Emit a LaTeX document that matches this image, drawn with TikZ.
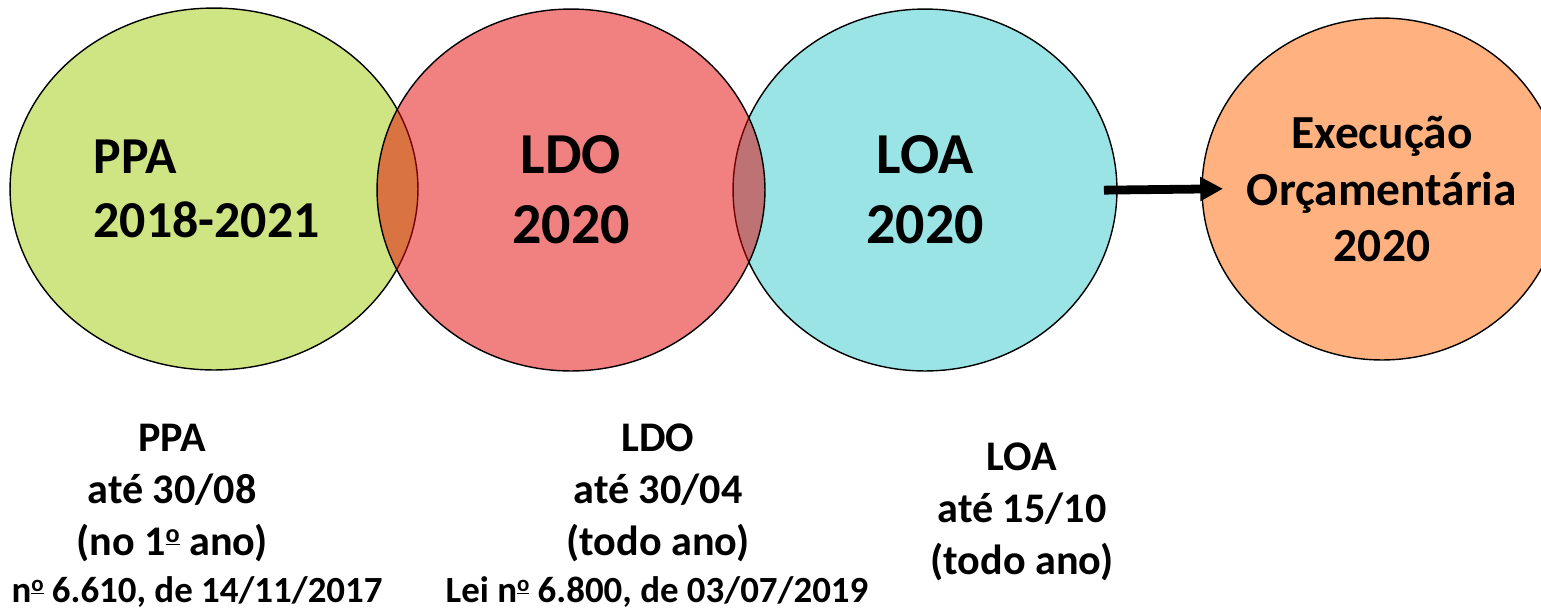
\documentclass[tikz,border=0pt]{standalone}
\usepackage{fontspec}
\setmainfont{Carlito}
\usetikzlibrary{shapes.geometric,arrows.meta}
\definecolor{ppagreen}{RGB}{207,229,131}
\definecolor{ldored}{RGB}{228,2,2}
\definecolor{loacyan}{RGB}{155,228,230}
\definecolor{execorange}{RGB}{255,178,128}
\newcommand{\ordo}{\raisebox{0.62ex}{\scalebox{0.62}{\underline{o}}}}
\tikzset{
  plan/.style={ellipse,draw=black,line width=0.8pt,inner sep=0pt,outer sep=0pt,align=center},
  prazo/.style={align=center,font=\fontsize{24}{29.6}\selectfont\bfseries},
  lei/.style={font=\fontsize{21}{24}\selectfont\bfseries}
}
\begin{document}
\begin{tikzpicture}[x=0.02cm,y=-0.02cm,line join=round]
\useasboundingbox (0,0) rectangle (1541,610);
\node[plan,fill=ppagreen,minimum width=8.16cm,minimum height=7.24cm,align=left,
  font=\fontsize{29.5}{36.4}\selectfont\bfseries] (ppa) at (214,189) {\hspace*{-0.3cm}PPA\\\hspace*{-0.3cm}2018-2021};
\node[plan,fill=loacyan,minimum width=7.68cm,minimum height=7.24cm,
  font=\fontsize{33}{40}\selectfont\bfseries] (loa) at (925,190) {LOA\\2020};
\node[plan,fill=execorange,minimum width=7.2cm,minimum height=6.84cm,inner sep=-0.8cm,
  font=\fontsize{27}{32.4}\selectfont\bfseries] (exec) at (1382,189) {Execução\\Orçamentária\\2020};
% LDO on top, half see-through
\node[plan,fill=ldored,fill opacity=0.5,draw opacity=1,text opacity=1,
  minimum width=7.76cm,minimum height=7.24cm,
  font=\fontsize{33}{40}\selectfont\bfseries] (ldo) at (571,190) {LDO\\2020};
\draw[line width=5pt,-{Triangle[length=13pt,width=13pt]},shorten <=-0.26cm,shorten >=-0.42cm] (loa.east) -- (exec.west);
% prazos
\node[prazo] (ppaprazo) at (172,493) {PPA\\até 30/08\\(no 1\ordo{} ano)};
\node[prazo] (ldoprazo) at (658,493) {LDO\\até 30/04\\(todo ano)};
\node[prazo] (loaprazo) at (1022,512) {LOA\\até 15/10\\(todo ano)};
\node[lei] (ppalei) at (197,592) {n\ordo{} 6.610, de 14/11/2017};
\node[lei] (ldolei) at (657,592) {Lei n\ordo{} 6.800, de 03/07/2019};
\end{tikzpicture}
\end{document}
